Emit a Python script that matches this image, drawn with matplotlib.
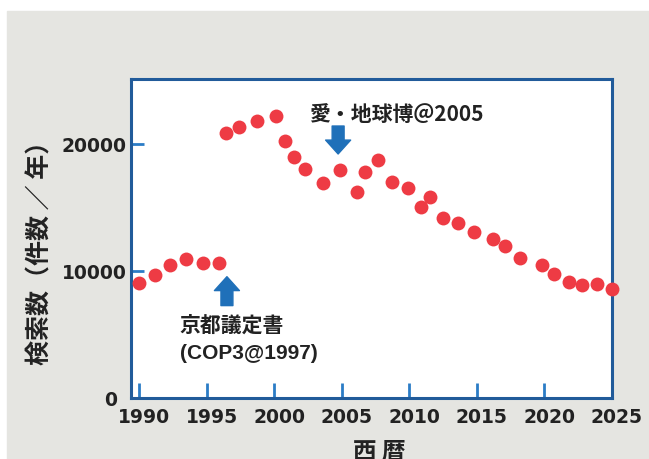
import matplotlib
matplotlib.use("Agg")
import matplotlib.pyplot as plt
from matplotlib.patches import FancyArrowPatch, Rectangle
from matplotlib.transforms import ScaledTranslation

# 検索数の推移 (読み取り値)
years = [1990.0, 1991.2, 1992.3, 1993.5, 1994.7, 1995.9,
         1996.4, 1997.4, 1998.7, 2000.1, 2000.8, 2001.5, 2002.3, 2003.6,
         2004.9, 2006.1, 2006.7, 2007.7, 2008.7, 2009.9, 2010.9, 2011.5,
         2012.5, 2013.6, 2014.8, 2016.2, 2017.1, 2018.2, 2019.8, 2020.7,
         2021.8, 2022.8, 2023.9, 2025.0]
counts = [9050, 9700, 10430, 10940, 10590, 10590,
          20830, 21300, 21780, 22220, 20200, 18970, 17990, 16910,
          17930, 16170, 17790, 18710, 17030, 16560, 15050, 15810,
          14180, 13790, 13030, 12510, 11930, 11040, 10430, 9730,
          9100, 8920, 9000, 8550]
x_ticks = [1990, 1995, 2000, 2005, 2010, 2015, 2020, 2025]
y_ticks = [0, 10000, 20000]

plt.rcParams['font.family'] = ['Noto Sans CJK JP', 'DejaVu Sans']

fig = plt.figure(figsize=(6.49, 4.60), dpi=100, facecolor='white')
fig.add_artist(Rectangle((7 / 649, 0), 1, 448 / 460, transform=fig.transFigure,
                         color='#e5e5e1', zorder=-10))
ax = fig.add_axes([131 / 649, 61 / 460, 481 / 649, 319 / 460])
ax.set_facecolor('white')

ax.plot(years, counts, 'o', ms=10, color='#ee3b44', mec='none',
        clip_on=False, zorder=3)

ax.set_xlim(1989.4, 2025)
ax.set_ylim(0, 25100)
ax.set_xticks(x_ticks)
ax.set_yticks(y_ticks)
ax.tick_params(direction='in', color='#2b7cc6', width=2, length=11,
               labelsize=13.5, labelcolor='#222222')
ax.tick_params(axis='x', pad=6.5)
ax.tick_params(axis='y', pad=3, length=9)
for lbl in ax.get_xticklabels() + ax.get_yticklabels():
    lbl.set_fontweight('bold')
    lbl.set_family('DejaVu Sans')

# 目盛ラベルを少しずらす (元図に合わせる)
shift_x = ScaledTranslation(5 / 100, 0, fig.dpi_scale_trans)
for t in ax.xaxis.get_major_ticks():
    t.label1.set_transform(t.label1.get_transform() + shift_x)
zero_lbl = ax.yaxis.get_major_ticks()[0].label1
zero_lbl.set_transform(zero_lbl.get_transform() + ScaledTranslation(-10 / 100, 0, fig.dpi_scale_trans))

for s in ax.spines.values():
    s.set_color('#215b9a')
    s.set_linewidth(2.2)

# 矢印
arrow_style = 'simple,head_length=10,head_width=18,tail_width=8.6'
ax.add_patch(FancyArrowPatch((1996.5, 7270), (1996.5, 9545), arrowstyle=arrow_style,
                             mutation_scale=1, color='#1f70b9', shrinkA=0, shrinkB=0))
ax.add_patch(FancyArrowPatch((2004.73, 21400), (2004.73, 19200), arrowstyle=arrow_style,
                             mutation_scale=1, color='#1f70b9', shrinkA=0, shrinkB=0))

ax.text(2009.1, 22350, '愛・地球博＠2005', ha='center', va='center',
        fontsize=15, fontweight='bold', color='#222222')
ax.text(1993.0, 5770, '京都議定書', ha='left', va='center',
        fontsize=15, fontweight='bold', color='#222222')
ax.text(1993.0, 3570, '(COP3@1997)', ha='left', va='center',
        fontsize=15, fontweight='bold', color='#222222', family='Liberation Sans')

fig.text(40 / 649, 1 - 247 / 460, '検索数（件数 ／ 年）', rotation=90,
         ha='center', va='center', fontsize=18, fontweight='bold', color='#222222')
fig.text(379 / 649, 1 - 452 / 460, '西 暦', ha='center', va='center',
         fontsize=17, fontweight='bold', color='#222222')

fig.savefig('out.png', dpi=100)
